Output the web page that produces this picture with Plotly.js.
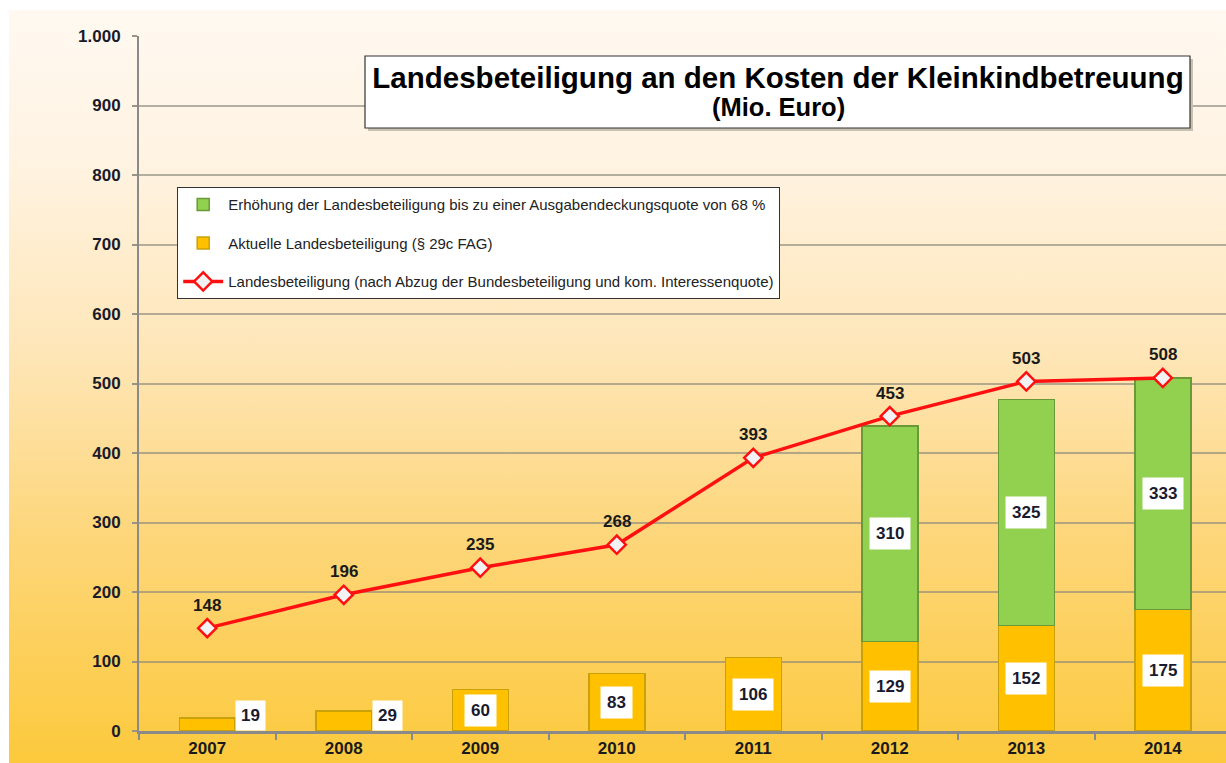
<!DOCTYPE html>
<html>
<head>
<meta charset="utf-8">
<script src="https://cdn.plot.ly/plotly-3.0.1.min.js"></script>
<style>
  html, body { margin:0; padding:0; background:#ffffff; }
  #bg { position:absolute; left:9px; top:10px; width:1217px; height:753px;
        background: linear-gradient(to bottom, #fff9f1 0%, #fff3e2 20%, #fee6b8 45%, #fdd67a 70%, #fcc93c 100%); }
  #chart { position:absolute; left:0; top:0; width:1226px; height:763px; }
</style>
</head>
<body>
<div id="bg"></div>
<div id="chart"></div>
<script>
const years = ['2007','2008','2009','2010','2011','2012','2013','2014'];
const aktuell = [19, 29, 60, 83, 106, 129, 152, 175];
const erhoehung = [null, null, null, null, null, 310, 325, 333];
const landesbeteiligung = [148, 196, 235, 268, 393, 453, 503, 508];
const yTicks = [0, 100, 200, 300, 400, 500, 600, 700, 800, 900, 1000];

const titleText = 'Landesbeteiligung an den Kosten der Kleinkindbetreuung';
const subtitleText = '(Mio. Euro)';
const nameErh = 'Erhöhung der Landesbeteiligung bis zu einer Ausgabendeckungsquote von 68 %';
const nameAkt = 'Aktuelle Landesbeteiligung (§ 29c FAG)';
const nameLine = 'Landesbeteiligung (nach Abzug der Bundesbeteiligung und kom. Interessenquote)';

const FF = 'Liberation Sans, Arial, sans-serif';

const traces = [
  { type:'bar', x:years, y:aktuell, name:nameAkt, width:0.41,
    marker:{color:'#ffc000', line:{color:'#c9a10a', width:1.5}},
    legendrank:2, legendgroup:'b', hoverinfo:'y' },
  { type:'bar', x:years, y:erhoehung, name:nameErh, width:0.41,
    marker:{color:'#92d050', line:{color:'#6a9a38', width:1.5}},
    legendrank:1, legendgroup:'a', hoverinfo:'y' },
  { type:'scatter', mode:'lines+markers', x:years, y:landesbeteiligung, name:nameLine,
    line:{color:'#ff1010', width:3.5},
    marker:{symbol:'diamond', size:14, color:'#f2f2f4', line:{color:'#ff1010', width:2.5}},
    legendrank:3, legendgroup:'c', hoverinfo:'y' }
];

const annotations = [];
years.forEach((yr, i) => {
  const a = aktuell[i];
  if (a < 40) {
    annotations.push({x:i, y:0, xref:'x', yref:'y', text:'<b>' + a + '</b>', showarrow:false,
      xanchor:'left', yanchor:'bottom', xshift:28,
      bgcolor:'#ffffff', borderpad:5, font:{family:FF, size:17, color:'#1a1a2e'}});
  } else {
    annotations.push({x:i, y:a/2, xref:'x', yref:'y', text:'<b>' + a + '</b>', showarrow:false,
      bgcolor:'#ffffff', borderpad:6, font:{family:FF, size:17, color:'#1a1a2e'}});
  }
  const g = erhoehung[i];
  if (g !== null) {
    annotations.push({x:i, y:a + g/2, xref:'x', yref:'y', text:'<b>' + g + '</b>', showarrow:false,
      bgcolor:'#ffffff', borderpad:6, font:{family:FF, size:17, color:'#1a1a2e'}});
  }
  annotations.push({x:i, y:landesbeteiligung[i], xref:'x', yref:'y', text:'<b>' + landesbeteiligung[i] + '</b>',
    showarrow:false, yshift:23, font:{family:FF, size:17, color:'#1a1a1a'}});
});
annotations.push({x:(778-139)/1087, y:(731-107)/695, xref:'paper', yref:'paper',
  text:'<b>' + subtitleText + '</b>', showarrow:false, xanchor:'center', yanchor:'middle',
  font:{family:FF, size:25.5, color:'#000000'}});

const layout = {
  width:1226, height:763,
  margin:{l:139, r:0, t:36, b:32, pad:0},
  paper_bgcolor:'rgba(0,0,0,0)',
  plot_bgcolor:'rgba(0,0,0,0)',
  separators:',.',
  barmode:'stack',
  showlegend:true,
  font:{family:FF, color:'#1a1a1a'},
  title:{
    text:'<b>' + titleText + '</b>',
    font:{family:FF, size:29.5, color:'#000000'},
    x:(778-139)/1087, xanchor:'center', xref:'paper', y:1 - 78/763, yanchor:'middle', yref:'container'
  },
  shapes:[
    {type:'rect', xref:'paper', yref:'paper', x0:(368-139)/1087, x1:(1193-139)/1087,
     y0:(731-131)/695, y1:(731-59)/695, fillcolor:'#c8c0b0', line:{width:0}, layer:'above'},
    {type:'rect', xref:'paper', yref:'paper', x0:(365-139)/1087, x1:(1190-139)/1087,
     y0:(731-128)/695, y1:(731-56)/695, fillcolor:'#ffffff', line:{color:'#333333', width:1.2}, layer:'above'}
  ],
  legend:{
    x:(177-139)/1087, y:(731-187)/695, xanchor:'left', yanchor:'top',
    bgcolor:'#ffffff', bordercolor:'#333333', borderwidth:1.2,
    font:{family:FF, size:15, color:'#222222'},
    traceorder:'grouped', tracegroupgap:16, itemwidth:40
  },
  xaxis:{
    type:'category', range:[-0.5, 7.463], fixedrange:true,
    showline:true, linecolor:'#8a8a8a', linewidth:3,
    ticks:'outside', tickson:'boundaries', ticklen:6, tickcolor:'#8a8a8a', tickwidth:2,
    showgrid:false, zeroline:false,
    tickfont:{family:FF, size:17, color:'#1a1a1a', weight:700}
  },
  yaxis:{
    range:[0, 1000], tickvals:yTicks, tickformat:',d', fixedrange:true,
    showline:true, linecolor:'#8a8a8a', linewidth:2,
    ticks:'outside', ticklen:5, tickcolor:'#9a9488', tickwidth:2,
    showgrid:true, gridcolor:'rgba(140,136,125,0.65)', gridwidth:2,
    zeroline:false, ticklabelstandoff:8,
    tickfont:{family:FF, size:17, color:'#1a1a2a', weight:700}
  },
  annotations:annotations
};

Plotly.newPlot('chart', traces, layout, {displayModeBar:false, responsive:false});
</script>
</body>
</html>
